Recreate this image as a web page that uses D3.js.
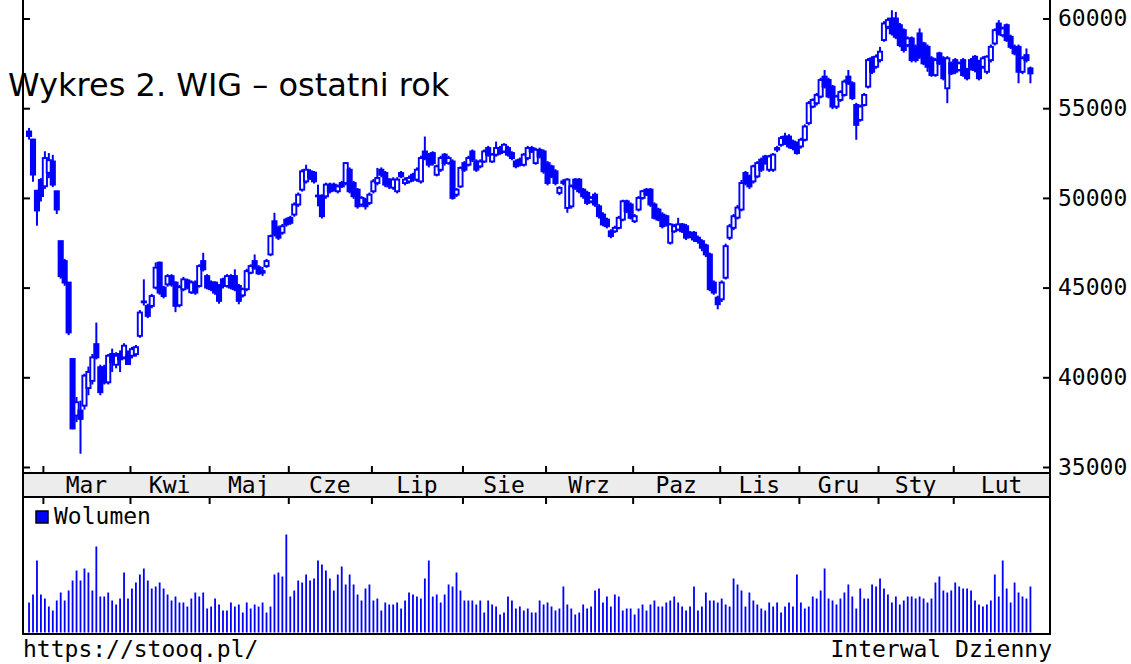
<!DOCTYPE html>
<html><head><meta charset="utf-8">
<script src="https://cdn.jsdelivr.net/npm/d3@7"></script>
<style>html,body{margin:0;padding:0;background:#fff;overflow:hidden}</style>
</head><body>
<svg id="c" width="1131" height="664" xmlns="http://www.w3.org/2000/svg"></svg>
<script>
// ---------------- DATA ----------------
const leadDays = 4; // last trading days of Feb 2020 shown before March
const monthLabels = ["Mar","Kwi","Maj","Cze","Lip","Sie","Wrz","Paz","Lis","Gru","Sty","Lut"];
const monthDays = [22,20,20,21,23,21,22,22,20,20,19,20];
const priceTicks = [35000,40000,45000,50000,55000,60000];

const open = [53700,53250,50400,51000,50650,51400,52030,50370,47590,46480,
45280,41020,37870,38150,38420,39400,39800,41850,40560,40560,
39720,41300,40700,41300,41110,41200,41200,41290,42310,44180,
43980,43980,45000,46390,45000,45180,45640,45280,44020,44910,
45400,44740,45280,45090,46480,45640,45290,45280,45090,45460,
45090,45640,45640,45090,44570,44910,45830,46480,46130,45830,
46200,46850,48700,48330,48060,48790,48890,49070,49630,50460,
50920,51480,51410,50090,50090,50090,50740,50740,50370,50830,
50830,51570,50830,50460,49630,49910,49720,50370,50830,51570,
51390,51020,50570,50370,51390,50830,50920,51290,51020,50920,
52590,52410,52500,51290,51570,52410,51940,52030,50180,50640,
51940,51850,52590,52030,51760,52030,52780,52030,52410,52780,
52590,52780,52500,52030,52130,51850,52220,52780,51940,52680,
52590,51940,51760,51480,50280,50920,49440,49530,51020,51020,
50460,50280,49810,50180,49530,49070,48790,48140,48140,48330,
48790,49810,49630,48700,49350,50000,50460,50460,49630,49350,
49070,48980,47500,48140,48240,48520,48420,48060,48060,47780,
47590,47350,46850,45280,44440,44350,45550,47780,48330,48900,
49350,51390,51200,50920,51200,52130,52310,51570,51570,52690,
52960,53420,53420,53140,53060,52870,53240,54170,55090,55280,
55650,56760,56570,56200,55090,55460,55740,56760,56390,55180,
54350,55180,56200,57780,57310,57680,58800,59540,60000,60000,
59630,59350,58520,58890,58420,59170,58610,58420,57780,56850,
58060,57780,56110,57500,57680,57130,57680,57130,57680,57870,
57590,57310,57030,57680,58610,59720,59070,59630,58980,58420,
58420,57030,57960,57220];

const high = [53900,53300,50450,51100,52600,52500,52400,50400,47600,46600,
45300,41050,38900,38700,40200,40600,41300,43050,40700,40700,
41300,41600,41400,41500,41900,41500,41700,41800,43750,45460,
44100,44650,46400,46450,45100,45750,45750,45350,45150,45600,
45500,45400,45400,46300,46940,45750,45400,45350,45200,45550,
45750,45750,46020,45200,45000,46050,46300,46850,46250,46150,
46600,47950,49170,48450,48550,48900,49000,49750,50300,51600,
51850,51600,51500,50740,50200,50850,50850,50850,50750,50950,
52000,51700,50950,50550,50100,50000,50300,51050,51670,51700,
51500,51100,51150,51150,51500,51150,51250,51400,51700,52350,
53420,52500,52600,51850,52350,52500,52350,52150,50550,51750,
52050,52350,52700,52150,52150,52700,52900,52500,53140,52900,
53050,52900,52600,52150,52250,52500,52900,52900,52800,52800,
52700,52050,51850,51600,50650,51050,51100,50750,51100,51100,
50550,50400,50100,50300,49650,49200,48900,48250,48450,49000,
49900,49900,49750,49100,50100,50450,50550,50550,49750,49450,
49200,49070,48600,48550,48890,48600,48550,48150,48150,47900,
47700,47450,46950,45400,44550,45400,47450,48550,49100,49600,
51000,51500,51300,51850,52050,52250,52400,52400,52500,52900,
53450,53630,53550,53250,53150,53350,54100,55400,55550,55850,
56700,57130,56700,56300,55750,56000,56600,57130,56500,55300,
55200,55850,57800,57900,58000,58420,59850,60050,60460,60370,
59750,59450,59000,59000,58550,59450,58700,58550,57900,57800,
58150,57900,57900,57600,57800,57600,57800,57250,57800,57960,
57700,57900,57950,58550,59450,59910,59550,59720,59100,58550,
58550,57900,58330,57320];

const low = [53250,50900,48450,49800,50500,51100,50600,49100,45500,45100,
42350,37100,37500,35740,38200,39000,39600,41000,39000,39600,
39600,40300,40500,40290,41000,40700,41050,41150,42200,44000,
43300,43850,44900,44600,44400,45050,45050,43630,43900,44800,
44900,44650,44600,45000,45900,44900,44800,44600,44100,44950,
45000,44900,44800,44070,44450,44800,45750,46000,45700,45650,
46100,46750,47850,47650,47950,48400,48500,48950,49500,50350,
50800,51000,50800,49530,48850,49950,50250,50350,50250,50550,
50700,50250,49950,49400,49500,49350,49600,50250,50700,51150,
50600,50500,50450,50250,51100,50700,50800,50900,50900,50800,
52100,51700,51800,51200,51450,51800,51850,49900,50050,50550,
51450,51750,52000,51450,51650,51950,52300,51950,52300,52400,
52500,52300,52100,51650,51750,51750,52100,52500,51850,52200,
51350,50700,51100,50700,50150,50700,49170,49400,50450,50250,
49950,49600,49700,49500,48850,48420,48300,47750,48050,48250,
48700,49150,48800,48600,49250,49900,50100,49500,48800,48700,
48300,48400,47400,48050,48150,48050,47650,47750,47550,47450,
47030,46700,44800,44600,43790,44200,45450,47650,48200,48800,
49250,50700,50500,50800,51100,51450,51850,51450,51450,52550,
52850,52950,52750,52650,52410,52750,53150,54050,55000,55150,
55550,56100,55550,54950,54950,55350,55650,56300,55450,53240,
54250,55100,56100,56900,57200,57550,58700,59400,59050,58850,
58400,58100,58400,57550,57550,57750,57400,57030,56750,56750,
57400,56550,55280,56850,56900,57050,56750,56550,57100,57000,
56550,57200,56900,57550,58500,59050,58950,58700,58300,57950,
56390,56900,57550,56390];

const close = [53450,51300,49300,50100,52220,52100,50740,49350,45640,45280,
42500,37150,38610,37680,40090,40300,41110,41110,39170,39720,
41200,40840,41200,41000,41760,40740,41570,41680,43610,44230,
43420,44530,46110,44720,44530,45640,45180,43980,45020,45460,
45020,45290,44720,46200,46020,45000,44910,44720,44260,45090,
45640,45000,44910,44260,44910,45920,46200,46110,45790,45920,
46480,47870,47960,47780,48420,48520,48610,49630,50180,51480,
51570,51130,50920,50130,48980,50740,50370,50460,50640,50640,
51940,50370,50090,49530,50000,49530,50180,50920,51110,51290,
50740,50640,51020,51020,51200,51020,51110,51020,51570,52220,
52220,51850,51940,51760,52220,51940,52220,50000,50460,51670,
51570,52220,52130,51570,52030,52590,52410,52410,52780,52500,
52960,52410,52220,51760,51850,52410,52780,52590,52680,52310,
51480,50830,51200,50830,50560,50830,51020,50640,50560,50370,
50090,49720,50000,49630,48980,48520,48420,47870,48330,48890,
49810,49260,48890,48980,50000,50370,50180,49630,48890,48790,
48420,48520,48520,48420,48520,48140,47780,47870,47680,47590,
47220,46850,44910,44720,44070,45280,47310,48420,48980,49460,
50830,50830,50640,51760,51940,51570,51940,52310,52410,52780,
53330,53060,52870,52780,52500,53240,53980,55280,55460,55740,
56570,56200,55650,55090,55650,55900,56480,56390,55560,54070,
55090,55740,57680,57030,57870,58150,59720,59910,59170,58980,
58520,58240,58890,57680,57680,57870,57500,57310,56850,57680,
57500,56670,57780,56940,57030,57500,56850,56670,57220,57130,
56670,57780,57870,58420,59350,59170,59440,58790,58420,58060,
57030,57780,57680,56940];

const volume = [300,380,720,380,340,260,220,320,400,320,
420,520,620,520,640,600,420,860,360,360,
400,320,280,340,600,340,440,500,580,640,
520,440,460,500,440,380,320,360,300,300,
260,340,400,360,400,240,260,340,280,220,
220,300,260,280,200,300,240,280,260,300,
200,260,580,600,560,980,360,420,520,500,
580,520,540,720,680,620,540,420,580,660,
480,580,480,380,320,440,480,320,340,220,
300,280,280,300,240,320,400,380,360,340,
540,720,360,380,300,380,480,460,600,420,
320,320,320,280,320,200,320,280,260,180,
200,360,320,240,260,220,240,200,200,320,
280,300,260,220,240,460,280,240,180,200,
280,240,260,420,440,300,360,260,380,360,
220,240,240,180,240,280,220,280,320,260,
260,300,320,360,300,260,220,260,460,220,
260,400,320,320,300,340,280,260,540,480,
420,260,400,320,280,240,220,300,260,300,
200,260,300,260,580,300,240,260,360,340,
420,640,340,320,280,340,400,480,360,240,
440,340,340,480,460,540,440,380,300,360,
280,320,360,360,340,360,340,300,340,500,
560,420,400,420,500,460,440,440,420,320,
280,260,280,320,580,360,720,440,300,500,
400,360,340,460];

// ---------------- DRAW ----------------
const BLUE = "#0000ff";
const MONO = "'DejaVu Sans Mono', monospace";
const svg = d3.select("#c");
const L = 23, R = 1050, bandTop = 473, bandBot = 497, bottom = 634;

const n = open.length;
const x = d3.scaleLinear().domain([0, n - 1]).range([29.05, 29.05 + 3.958 * (n - 1)]);
const y = d3.scaleLinear().domain([35000, 60000]).range([467, 18.5]);
const yv = d3.scaleLinear().domain([0, 1000]).range([632.5, 532.5]);

// month boundaries from trading-day counts
const starts = [];
let acc = leadDays;
monthDays.forEach(d => { starts.push(acc); acc += d; });
const bounds = starts.map(s => x(s - 0.5));

svg.append("rect").attr("width", 1131).attr("height", 664).attr("fill", "#fff");

const defs = svg.append("defs");
defs.append("clipPath").attr("id", "clipP").append("rect")
  .attr("x", L + 1).attr("y", -10).attr("width", R - L - 2).attr("height", bandTop + 9);
defs.append("clipPath").attr("id", "clipV").append("rect")
  .attr("x", L + 1).attr("y", bandBot + 1).attr("width", R - L - 2).attr("height", bottom - bandBot - 2);

// band
svg.append("rect").attr("x", L).attr("y", bandTop).attr("width", R - L).attr("height", bandBot - bandTop)
  .attr("fill", "#ececec");

// candles
const candles = d3.range(n).map(i => ({ i, o: open[i], h: high[i], l: low[i], c: close[i] }));
const gc = svg.append("g").attr("clip-path", "url(#clipP)");
gc.selectAll("line.w").data(candles).join("line").attr("class", "w")
  .attr("x1", d => x(d.i)).attr("x2", d => x(d.i))
  .attr("y1", d => y(Math.max(d.h, d.o, d.c))).attr("y2", d => y(Math.min(d.l, d.o, d.c)))
  .attr("stroke", BLUE).attr("stroke-width", 2);
gc.selectAll("rect.b").data(candles).join("rect").attr("class", "b")
  .attr("x", d => x(d.i) - 2.1).attr("width", 4.2)
  .attr("y", d => y(Math.max(d.o, d.c)))
  .attr("height", d => Math.max(0.8, Math.abs(y(d.o) - y(d.c))))
  .attr("fill", d => d.c >= d.o ? "#fff" : BLUE)
  .attr("stroke", BLUE).attr("stroke-width", 1.9);

// volume
const gv = svg.append("g").attr("clip-path", "url(#clipV)");
gv.selectAll("rect").data(volume).join("rect")
  .attr("x", (v, i) => x(i) - 0.9).attr("width", 1.8)
  .attr("y", v => yv(v)).attr("height", v => yv(0) - yv(v))
  .attr("fill", BLUE);

// frame lines
const frame = svg.append("g").attr("stroke", "#000").attr("stroke-width", 2);
frame.append("line").attr("x1", L).attr("x2", L).attr("y1", -2).attr("y2", bottom + 1);
frame.append("line").attr("x1", R).attr("x2", R).attr("y1", -2).attr("y2", bottom + 1);
frame.append("line").attr("x1", L - 1).attr("x2", R + 1).attr("y1", bottom).attr("y2", bottom);
frame.append("line").attr("x1", L - 1).attr("x2", R + 1).attr("y1", bandTop).attr("y2", bandTop);
frame.append("line").attr("x1", L - 1).attr("x2", R + 1).attr("y1", bandBot).attr("y2", bandBot);

function styleAxis(g) {
  g.select(".domain").remove();
  g.selectAll(".tick line").attr("stroke", "#000").attr("stroke-width", 2);
  g.selectAll("text").attr("fill", "#000").attr("font-family", MONO).attr("font-size", 23);
}

// month ticks (above and below band)
svg.append("g").attr("transform", `translate(0,${bandTop})`)
  .call(d3.axisTop(x).tickValues(starts.map(s => s - 0.5)).tickSize(7).tickFormat(""))
  .call(styleAxis);
svg.append("g").attr("transform", `translate(0,${bandBot})`)
  .call(d3.axisBottom(x).tickValues(starts.map(s => s - 0.5)).tickSize(7).tickFormat(""))
  .call(styleAxis);

// month labels centred between boundaries
const edges = bounds.concat([R]);
svg.append("g").selectAll("text").data(monthLabels).join("text")
  .attr("x", (m, k) => (edges[k] + edges[k + 1]) / 2)
  .attr("y", 493)
  .attr("text-anchor", "middle")
  .attr("font-family", MONO).attr("font-size", 23).attr("fill", "#000")
  .text(m => m);

// price axes
svg.append("g").attr("transform", `translate(${L},0)`)
  .call(d3.axisRight(y).tickValues(priceTicks).tickSize(7).tickFormat(""))
  .call(styleAxis);
svg.append("g").attr("transform", `translate(${R},0)`)
  .call(d3.axisLeft(y).tickValues(priceTicks).tickSize(7).tickFormat(""))
  .call(styleAxis);
svg.append("g").attr("transform", `translate(${R},0)`)
  .call(d3.axisRight(y).tickValues(priceTicks).tickSize(0).tickPadding(8).tickFormat(d3.format("d")))
  .call(styleAxis);

// legend
svg.append("rect").attr("x", 36).attr("y", 511).attr("width", 12).attr("height", 12)
  .attr("fill", BLUE).attr("stroke", "#000").attr("stroke-width", 1.5);
svg.append("text").attr("x", 54).attr("y", 524)
  .attr("font-family", MONO).attr("font-size", 23).attr("fill", "#000").text("Wolumen");

// footer
svg.append("text").attr("x", 23).attr("y", 657)
  .attr("font-family", MONO).attr("font-size", 23).attr("fill", "#000").text("https://stooq.pl/");
svg.append("text").attr("x", 1052).attr("y", 657).attr("text-anchor", "end")
  .attr("font-family", MONO).attr("font-size", 23).attr("fill", "#000").text("Interwal Dzienny");

// title overlay
svg.append("text").attr("x", 8).attr("y", 96)
  .attr("font-family", "'DejaVu Sans', sans-serif").attr("font-size", 32).attr("fill", "#000")
  .text("Wykres 2. WIG – ostatni rok");
</script>
</body></html>
